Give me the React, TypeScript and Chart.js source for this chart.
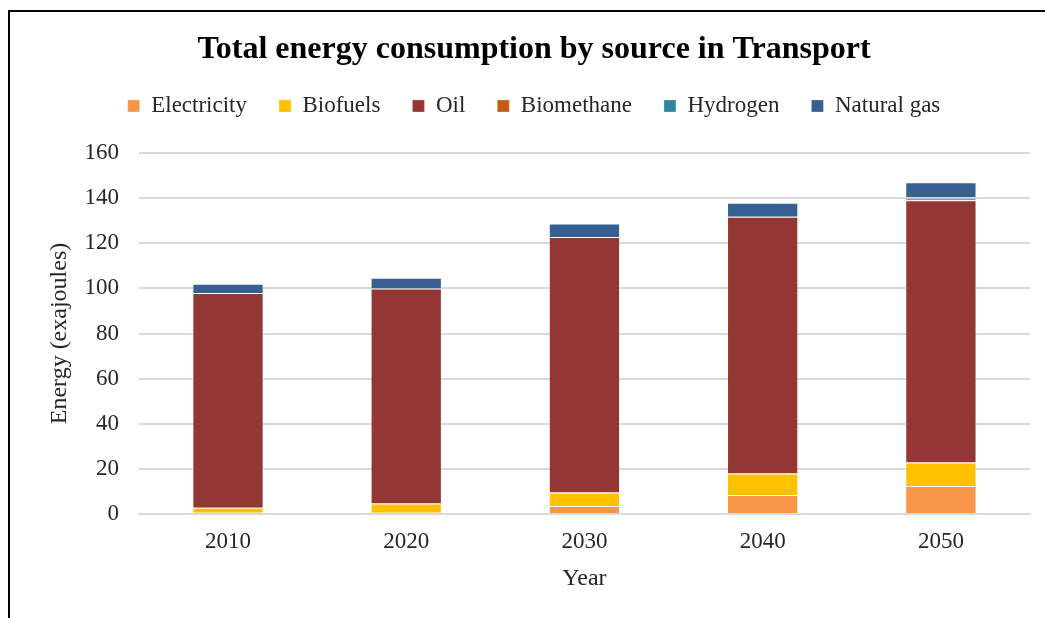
import React, { useEffect, useRef } from "react";
import { Chart, registerables } from "chart.js";

Chart.register(...registerables);

const years = ["2010", "2020", "2030", "2040", "2050"];
const electricity = [0.5, 0.6, 3.6, 8.4, 12.4];
const biofuels = [2.3, 4.0, 5.9, 9.5, 10.4];
const oil = [95.2, 95.3, 113.3, 113.8, 116.3];
const biomethane = [0, 0, 0, 0, 0.7];
const hydrogen = [0, 0, 0, 0, 0.6];
const naturalGas = [4.0, 4.8, 5.9, 6.3, 6.6];

const seriesNames = ["Electricity", "Biofuels", "Oil", "Biomethane", "Hydrogen", "Natural gas"];
const seriesColors = ["#F79646", "#FFC000", "#943634", "#C55A11", "#31859C", "#366092"];

const FONT = "'Liberation Serif', 'Times New Roman', serif";

const legendSpacer = {
  id: "legendSpacer",
  beforeLayout(chart: any) {
    const legend = chart.legend;
    if (!legend || legend._spacerPatched) return;
    const orig = legend.fit;
    legend.fit = function () {
      orig.call(this);
      this.height += 25.5;
    };
    legend._spacerPatched = true;
  },
};

export default function App() {
  const ref = useRef<HTMLCanvasElement>(null);

  useEffect(() => {
    if (!ref.current) return;
    const values = [electricity, biofuels, oil, biomethane, hydrogen, naturalGas];
    const chart = new Chart(ref.current, {
      type: "bar",
      data: {
        labels: years,
        datasets: values.map((v, i) => ({
          label: seriesNames[i],
          data: v,
          backgroundColor: seriesColors[i],
          borderColor: "rgba(255,255,255,0.25)",
          borderWidth: 1,
          barPercentage: 0.4,
          categoryPercentage: 1,
        })),
      },
      plugins: [legendSpacer],
      options: {
        responsive: false,
        animation: false,
        layout: { padding: { top: 12, left: 38, right: 45, bottom: 20.6 } },
        plugins: {
          title: {
            display: true,
            text: "Total energy consumption by source in Transport",
            color: "#000",
            font: { family: FONT, size: 32, weight: "bold", lineHeight: 1 },
            padding: { top: 22, bottom: -3.5 },
          },
          legend: {
            display: true,
            position: "top",
            labels: {
              color: "#262626",
              font: { family: FONT, size: 23 },
              boxWidth: 12,
              boxHeight: 12,
              padding: 32,
            },
          },
          tooltip: { enabled: false },
        },
        scales: {
          x: {
            stacked: true,
            grid: { display: false, drawTicks: false },
            border: { display: true, color: "#D9D9D9", width: 2 },
            ticks: { color: "#262626", font: { family: FONT, size: 23 }, padding: 14 },
            title: {
              display: true,
              text: "Year",
              color: "#262626",
              font: { family: FONT, size: 24 },
              padding: { top: -5, bottom: 4 },
            },
          },
          y: {
            stacked: true,
            min: 0,
            max: 160,
            ticks: { stepSize: 20, color: "#262626", font: { family: FONT, size: 23 }, padding: 20 },
            grid: { color: "#D9D9D9", lineWidth: 2, drawTicks: false },
            border: { display: false },
            title: {
              display: true,
              text: "Energy (exajoules)",
              color: "#262626",
              font: { family: FONT, size: 24 },
              padding: { top: 7.6, bottom: -10 },
            },
          },
        },
      },
    });
    return () => chart.destroy();
  }, []);

  return (
    <div style={{ position: "fixed", left: 0, top: 0, width: 1045, height: 618, background: "#fff", overflow: "hidden" }}>
      <canvas ref={ref} width={1075} height={618} style={{ position: "absolute", left: 0, top: 0 }} />
      <div
        style={{
          position: "absolute",
          left: 8,
          top: 10,
          width: 1045,
          height: 620,
          borderTop: "2px solid #000",
          borderLeft: "2px solid #000",
          pointerEvents: "none",
        }}
      />
    </div>
  );
}
